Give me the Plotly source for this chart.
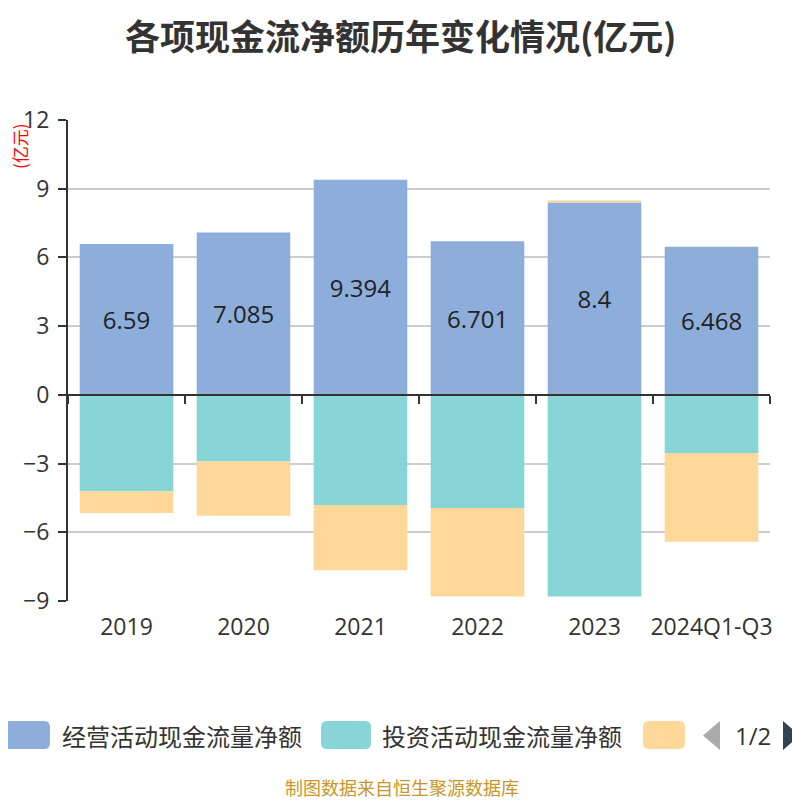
import plotly.graph_objects as go

# 数据
years = ['2019', '2020', '2021', '2022', '2023', '2024Q1-Q3']
operating = [6.59, 7.085, 9.394, 6.701, 8.4, 6.468]
operating_labels = ['6.59', '7.085', '9.394', '6.701', '8.4', '6.468']
investing = [-4.21, -2.91, -4.81, -4.94, -8.80, -2.54]
financing = [-0.95, -2.37, -2.85, -3.86, 0.09, -3.87]
names = ['经营活动现金流量净额', '投资活动现金流量净额', '筹资活动现金流量净额']
colors = ['#8DADDA', '#88D5D8', '#FED899']
tick_vals = [-9, -6, -3, 0, 3, 6, 9, 12]

FONT = 'Open Sans, Noto Sans CJK SC'
CJK = 'Noto Sans CJK SC'
OFF = 8  # 页面body边距
W, H = 800, 800
ML, MT = 60, 112
PW, PH = 702, 481
MR, MB = W - ML - PW, H - MT - PH


def px(x):
    """参考图像素x -> paper坐标"""
    return (x - OFF - ML) / PW


def py(y):
    """参考图像素y -> paper坐标"""
    return (MT + PH - (y - OFF)) / PH


def round_rect(x0, y0, x1, y1, r=6):
    a, b, c, d = px(x0), py(y0), px(x1), py(y1)
    rx, ry = r / PW, r / PH
    return (f'M {a + rx},{b} L {c - rx},{b} Q {c},{b} {c},{b - ry} '
            f'L {c},{d + ry} Q {c},{d} {c - rx},{d} L {a + rx},{d} '
            f'Q {a},{d} {a},{d + ry} L {a},{b - ry} Q {a},{b} {a + rx},{b} Z')


fig = go.Figure()

fig.add_trace(go.Bar(
    x=years, y=operating, name=names[0],
    marker=dict(color=colors[0], line=dict(width=0)),
    text=operating_labels, textposition='inside', insidetextanchor='middle',
    textfont=dict(size=24, color='#222222', family='Open Sans'),
    textangle=0,
))
fig.add_trace(go.Bar(
    x=years, y=investing, name=names[1],
    marker=dict(color=colors[1], line=dict(width=0)),
))
fig.add_trace(go.Bar(
    x=years, y=financing, name=names[2],
    marker=dict(color=colors[2], line=dict(width=0)),
))

fig.update_layout(
    width=W, height=H,
    margin=dict(l=ML, r=MR, t=MT, b=MB),
    paper_bgcolor='white', plot_bgcolor='white',
    barmode='relative', bargap=0.2,
    showlegend=False,
    font=dict(family=FONT, color='#333333'),
    xaxis=dict(
        type='category', categoryorder='array', categoryarray=years,
        range=[-0.5, 5.5], showline=False, showgrid=False, ticks='',
        tickfont=dict(size=23, color='#333333', family='Open Sans'),
        ticklabelstandoff=10,
    ),
    xaxis2=dict(
        type='category', categoryorder='array', categoryarray=years,
        range=[-0.5, 5.5], overlaying='x', anchor='free',
        position=(0 - tick_vals[0]) / (tick_vals[-1] - tick_vals[0]),
        showline=True, linecolor='#333333', linewidth=2,
        ticks='outside', tickson='boundaries', ticklen=8, tickwidth=2,
        tickcolor='#333333', showticklabels=False, showgrid=False,
    ),
    yaxis=dict(
        range=[tick_vals[0], tick_vals[-1]], tickvals=tick_vals,
        showgrid=True, gridcolor='#CCCCCC', gridwidth=1.5,
        zeroline=False,
        showline=True, linecolor='#333333', linewidth=2,
        ticks='outside', ticklen=8, tickwidth=2, tickcolor='#333333',
        tickfont=dict(size=23, color='#333333', family='Open Sans'),
        ticklabelstandoff=4,
    ),
)

# 零线上的x轴（类别边界刻度）
fig.add_trace(go.Scatter(x=years, y=[None] * len(years), xaxis='x2',
                         showlegend=False, hoverinfo='skip'))

annotations = [
    dict(text='<b>各项现金流净额历年变化情况(亿元)</b>', x=px(400), y=py(34),
         xref='paper', yref='paper', xanchor='center', yanchor='middle',
         showarrow=False, font=dict(size=35, color='#333333', family=CJK)),
    dict(text='(亿元)', x=px(19), y=py(146), xref='paper', yref='paper',
         xanchor='center', yanchor='middle',
         textangle=-90, showarrow=False,
         font=dict(size=17, color='#FF0000', family=CJK)),
    dict(text='制图数据来自恒生聚源数据库', x=px(402), y=py(787),
         xref='paper', yref='paper', showarrow=False, yanchor='middle',
         font=dict(size=18, color='#C8962A', family=CJK)),
    dict(text='1/2', x=px(733), y=py(735), xref='paper', yref='paper',
         showarrow=False, xanchor='left', yanchor='middle',
         font=dict(size=24, color='#333333', family='Open Sans')),
]

# 自定义图例（分页，第三项被截断）
legend_boxes = [(0, 50), (321, 371), (643, 685)]
legend_text_x = [60, 380]
shapes = []
for i, (x0, x1) in enumerate(legend_boxes):
    shapes.append(dict(type='path', path=round_rect(x0, 721, x1, 749),
                       xref='paper', yref='paper', fillcolor=colors[i],
                       line=dict(width=0)))
for i, tx in enumerate(legend_text_x):
    annotations.append(dict(text=names[i], x=px(tx), y=py(735),
                            xref='paper', yref='paper', xanchor='left',
                            yanchor='middle', showarrow=False,
                            font=dict(size=24, color='#333333', family=CJK)))

# 翻页箭头
shapes.append(dict(type='path', xref='paper', yref='paper',
                   path=f'M {px(720)},{py(721)} L {px(720)},{py(750)} L {px(703)},{py(735.5)} Z',
                   fillcolor='#AAAAAA', line=dict(width=0)))
shapes.append(dict(type='path', xref='paper', yref='paper',
                   path=f'M {px(783)},{py(721)} L {px(783)},{py(750)} L {px(800)},{py(735.5)} Z',
                   fillcolor='#2F4554', line=dict(width=0)))

fig.update_layout(annotations=annotations, shapes=shapes)

fig.write_html('out.html')
